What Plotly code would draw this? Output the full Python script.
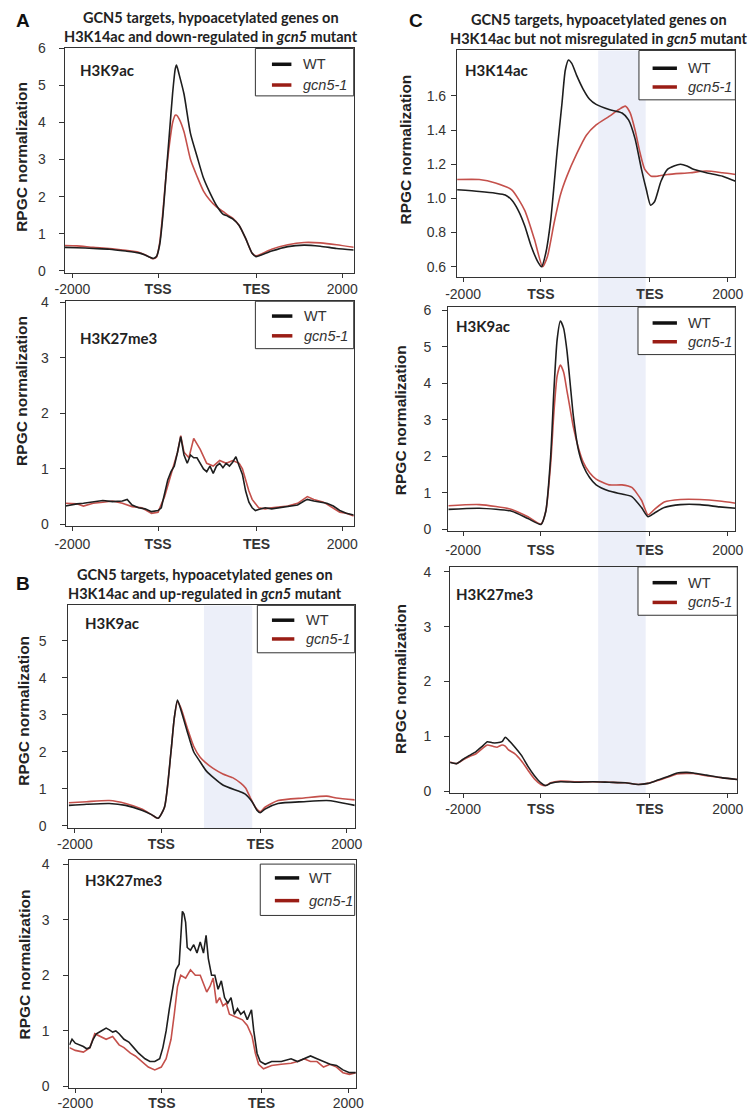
import plotly.graph_objects as go

W, H = 756, 1113

# ---------------- data ----------------
TICK_AB = [-2000, 0, 2300, 4300]
TICK_C = [-2000, 0, 2800, 4800]
TICK_TEXT = ["-2000", "<b>TSS</b>", "<b>TES</b>", "2000"]
SHADE_B = [990, 2110]
SHADE_C = [1470, 2690]

# A, H3K9ac
A1_X = [-2182, -1894, -1515, -1136, -758, -455, -303, -189, -114, -38, 38, 114, 189, 265, 341, 402, 432, 492,
        606, 758, 909, 1061, 1212, 1364, 1515, 1629, 1742, 1894, 2045, 2197, 2288, 2424, 2652, 3030, 3409,
        3788, 4167, 4568]
A1_WT = [0.63, 0.62, 0.60, 0.58, 0.53, 0.48, 0.42, 0.36, 0.33, 0.38, 0.70, 1.50, 2.60, 3.70, 4.80, 5.45, 5.55,
         5.30, 4.77, 3.70, 3.09, 2.50, 2.10, 1.76, 1.53, 1.47, 1.40, 1.22, 0.87, 0.47, 0.38, 0.43, 0.53, 0.65,
         0.69, 0.66, 0.60, 0.56]
A1_GCN = [0.68, 0.67, 0.63, 0.60, 0.55, 0.50, 0.43, 0.36, 0.32, 0.36, 0.75, 1.60, 2.60, 3.40, 4.00, 4.20, 4.20,
          4.10, 3.75, 3.00, 2.55, 2.15, 1.90, 1.72, 1.60, 1.50, 1.42, 1.22, 0.87, 0.47, 0.40, 0.46, 0.58, 0.70,
          0.76, 0.75, 0.70, 0.63]

# A, H3K27me3
A2_X_WT = [-2159, -2045, -1894, -1742, -1515, -1288, -1061, -833, -720, -606, -455, -303, -152, 0, 76, 152, 227,
           303, 379, 455, 530, 606, 682, 758, 833, 909, 985, 1061, 1136, 1212, 1288, 1364, 1439, 1515, 1591,
           1667, 1742, 1818, 1894, 1970, 2045, 2121, 2197, 2273, 2348, 2500, 2652, 2803, 3030, 3258, 3409,
           3485, 3636, 3788, 3939, 4091, 4242, 4394, 4568]
A2_WT = [0.33, 0.35, 0.37, 0.38, 0.40, 0.43, 0.41, 0.42, 0.45, 0.35, 0.30, 0.28, 0.23, 0.25, 0.30, 0.55, 0.80,
         0.95, 1.05, 1.30, 1.58, 1.25, 1.10, 1.25, 1.20, 1.20, 1.10, 1.00, 0.95, 1.05, 0.92, 1.05, 1.10, 1.02,
         1.10, 1.05, 1.12, 1.22, 1.05, 0.90, 0.60, 0.40, 0.30, 0.25, 0.27, 0.30, 0.28, 0.30, 0.32, 0.35, 0.42,
         0.45, 0.42, 0.40, 0.38, 0.33, 0.25, 0.20, 0.17]
A2_X_GCN = [-2159, -1894, -1742, -1515, -1288, -1061, -833, -606, -379, -152, 0, 152, 303, 455, 530, 606, 720,
            833, 909, 985, 1136, 1288, 1439, 1591, 1742, 1894, 1970, 2045, 2121, 2197, 2348, 2500, 2652, 3030,
            3258, 3485, 3636, 3864, 4091, 4242, 4394, 4568]
A2_GCN = [0.38, 0.37, 0.33, 0.38, 0.40, 0.42, 0.38, 0.32, 0.30, 0.20, 0.22, 0.50, 0.90, 1.30, 1.60, 1.30, 1.20,
          1.55, 1.45, 1.35, 1.10, 1.05, 1.15, 1.10, 1.15, 1.10, 1.00, 0.80, 0.60, 0.45, 0.30, 0.28, 0.30, 0.33,
          0.38, 0.50, 0.45, 0.40, 0.30, 0.22, 0.20, 0.15]

# B, H3K9ac
B1_X_WT = [-2143, -1730, -1203, -827, -451, -226, -75, 75, 226, 301, 376, 451, 602, 752, 902, 1053, 1429, 1805,
           1955, 2106, 2218, 2294, 2406, 2707, 3309, 3835, 4061, 4489]
B1_WT = [0.55, 0.58, 0.60, 0.55, 0.42, 0.30, 0.20, 0.50, 2.00, 2.90, 3.40, 3.15, 2.55, 2.00, 1.73, 1.47, 1.10,
         0.93, 0.85, 0.65, 0.42, 0.35, 0.45, 0.60, 0.65, 0.68, 0.65, 0.55]
B1_X_GCN = [-2143, -1730, -1203, -827, -451, -226, -75, 75, 226, 301, 376, 451, 602, 752, 902, 1015, 1203, 1429,
            1654, 1842, 1955, 2068, 2181, 2294, 2406, 2707, 3309, 3835, 4061, 4489]
B1_GCN = [0.62, 0.65, 0.68, 0.60, 0.45, 0.30, 0.20, 0.50, 2.00, 2.90, 3.35, 3.20, 2.65, 2.15, 1.85, 1.72, 1.55,
          1.40, 1.30, 1.15, 1.02, 0.75, 0.50, 0.38, 0.50, 0.68, 0.75, 0.80, 0.75, 0.70]

# B, H3K27me3
B2_X_WT = [-2135, -2075, -2000, -1887, -1813, -1738, -1663, -1588, -1513, -1401, -1288, -1213, -1138, -1064, -989,
           -876, -764, -652, -539, -390, -277, -165, -52, 22, 97, 172, 247, 322, 397, 434, 472, 509, 547, 584,
           659, 734, 809, 884, 959, 1019, 1071, 1146, 1221, 1296, 1371, 1446, 1520, 1595, 1670, 1745, 1820,
           1895, 1970, 2067, 2120, 2195, 2269, 2382, 2532, 2756, 2981, 3131, 3281, 3430, 3580, 3730, 3880, 4030,
           4179, 4329, 4479]
B2_WT = [0.75, 0.85, 0.78, 0.75, 0.72, 0.68, 0.70, 0.85, 0.95, 1.00, 1.05, 1.02, 0.98, 1.00, 0.95, 0.85, 0.80,
         0.70, 0.60, 0.50, 0.45, 0.45, 0.50, 0.70, 1.00, 1.40, 1.75, 2.10, 2.20, 2.60, 3.15, 3.10, 2.95, 2.50,
         2.45, 2.55, 2.40, 2.60, 2.40, 2.72, 2.30, 2.00, 2.00, 1.75, 1.90, 1.60, 1.50, 1.60, 1.30, 1.40, 1.30,
         1.35, 1.20, 1.38, 1.00, 0.60, 0.45, 0.40, 0.45, 0.45, 0.50, 0.45, 0.50, 0.55, 0.50, 0.45, 0.40, 0.38,
         0.30, 0.25, 0.25]
B2_X_GCN = [-2135, -2000, -1813, -1663, -1550, -1401, -1288, -1138, -989, -876, -727, -614, -464, -315, -165, -15,
            97, 210, 285, 360, 434, 547, 659, 771, 884, 959, 1034, 1109, 1183, 1258, 1333, 1408, 1483, 1558,
            1708, 1858, 1970, 2082, 2157, 2232, 2344, 2532, 2756, 2981, 3131, 3281, 3430, 3580, 3730, 3880,
            4030, 4179, 4329, 4479]
B2_GCN = [0.70, 0.65, 0.62, 0.70, 0.95, 0.90, 0.85, 0.90, 0.75, 0.70, 0.60, 0.55, 0.45, 0.35, 0.30, 0.35, 0.50,
          0.85, 1.30, 1.80, 2.00, 1.95, 2.10, 2.00, 2.00, 1.85, 1.70, 1.80, 1.95, 1.50, 1.60, 1.45, 1.50, 1.30,
          1.25, 1.20, 1.10, 0.90, 0.60, 0.40, 0.32, 0.38, 0.40, 0.42, 0.45, 0.50, 0.45, 0.45, 0.35, 0.40, 0.35,
          0.25, 0.22, 0.25]

# C, H3K14ac
C1_X_WT = [-2150, -1583, -1167, -917, -750, -583, -417, -250, -83, 17, 125, 250, 417, 542, 625, 708, 792, 917,
           1083, 1250, 1417, 1750, 2083, 2250, 2417, 2583, 2708, 2817, 2917, 3083, 3250, 3417, 3583, 3750, 3917,
           4250, 4667, 5000]
C1_WT = [1.05, 1.04, 1.03, 1.02, 0.99, 0.93, 0.84, 0.72, 0.63, 0.60, 0.68, 0.87, 1.28, 1.56, 1.75, 1.81, 1.79,
         1.72, 1.64, 1.58, 1.55, 1.52, 1.50, 1.46, 1.35, 1.17, 1.05, 0.96, 0.98, 1.10, 1.17, 1.19, 1.20, 1.19,
         1.17, 1.15, 1.13, 1.10]
C1_X_GCN = [-2150, -1583, -1167, -750, -417, -167, 42, 167, 333, 500, 667, 917, 1167, 1417, 1750, 2000, 2167,
            2292, 2417, 2542, 2667, 2833, 3000, 3250, 3833, 4250, 4667, 5000]
C1_GCN = [1.11, 1.11, 1.09, 1.05, 0.93, 0.76, 0.60, 0.66, 0.85, 1.02, 1.13, 1.26, 1.37, 1.43, 1.48, 1.52, 1.54,
          1.50, 1.40, 1.27, 1.17, 1.13, 1.13, 1.14, 1.15, 1.16, 1.15, 1.14]

# C, H3K9ac
C2_X = [-2375, -1583, -750, -333, 0, 125, 250, 333, 417, 500, 583, 667, 750, 833, 958, 1083, 1250, 1417, 1750,
        2083, 2333, 2583, 2750, 2917, 3167, 3583, 4083, 4583, 5000]
C2_WT = [0.55, 0.58, 0.50, 0.30, 0.14, 0.50, 2.00, 3.80, 5.20, 5.70, 5.50, 4.90, 4.00, 3.10, 2.20, 1.75, 1.42,
         1.22, 1.05, 0.97, 0.90, 0.60, 0.35, 0.45, 0.60, 0.68, 0.68, 0.62, 0.58]
C2_GCN = [0.65, 0.68, 0.55, 0.35, 0.15, 0.50, 1.80, 3.20, 4.20, 4.50, 4.30, 3.80, 3.30, 2.80, 2.25, 1.85, 1.55,
          1.38, 1.22, 1.22, 1.15, 0.80, 0.40, 0.55, 0.75, 0.82, 0.82, 0.78, 0.72]

# C, H3K27me3
C3_X = [-2333, -2167, -2000, -1833, -1667, -1500, -1375, -1250, -1125, -1000, -917, -833, -667, -500, -333, -167,
        0, 125, 250, 500, 917, 1333, 1750, 2167, 2500, 2750, 3000, 3250, 3500, 3750, 3917, 4250, 4667, 5042]
C3_WT = [0.52, 0.50, 0.58, 0.65, 0.72, 0.82, 0.90, 0.88, 0.88, 0.90, 0.98, 0.93, 0.80, 0.65, 0.45, 0.28, 0.15,
         0.10, 0.14, 0.17, 0.16, 0.17, 0.16, 0.15, 0.12, 0.14, 0.20, 0.26, 0.33, 0.34, 0.33, 0.29, 0.24, 0.21]
C3_GCN = [0.53, 0.50, 0.57, 0.63, 0.68, 0.78, 0.84, 0.82, 0.80, 0.84, 0.82, 0.75, 0.68, 0.55, 0.38, 0.22, 0.12,
          0.10, 0.15, 0.18, 0.17, 0.17, 0.16, 0.15, 0.12, 0.14, 0.19, 0.25, 0.31, 0.32, 0.32, 0.28, 0.24, 0.21]

SERIES_NAMES = ["WT", "<i>gcn5-1</i>"]

# ---------------- styling ----------------
WT_COLOR = "#1e1e1e"
GCN_COLOR = "#c4504b"
LEG_GCN_COLOR = "#9a1d15"
AXIS_COLOR = "#333333"
TICK_FONT = dict(family="Liberation Sans, Arial, sans-serif", size=14, color="#333333")
BOLD_FONT = "Lato, Open Sans, sans-serif"


def px(x):
    return x / W


def py(y):
    return 1 - y / H


panels = [
    dict(xd=(54, 351), yd=(41, 268), xr=(-2182, 4568), yr=(-0.053, 6.0), xt=TICK_AB, yt=[0, 1, 2, 3, 4, 5, 6],
         ystand=10, xw=A1_X, wt=A1_WT, xg=A1_X, gc=A1_GCN, shape="spline", name="H3K9ac", nxy=(68, 63),
         leg=(250, 41, 351, 89, 267, 287, 297, 57, 78), yt_xy=(9, 151), xstand=0),
    dict(xd=(55, 351), yd=(297, 525), xr=(-2159, 4568), yr=(-0.036, 4.018), xt=TICK_AB, yt=[0, 1, 2, 3, 4],
         ystand=8, xw=A2_X_WT, wt=A2_WT, xg=A2_X_GCN, gc=A2_GCN, shape="linear", name="H3K27me3", nxy=(68, 334),
         leg=(250, 297, 351, 345, 267, 288, 298, 312, 332), yt_xy=(9, 388), xstand=1),
    dict(xd=(58, 352), yd=(605, 830), xr=(-2151, 4485), yr=(-0.05, 5.96), xt=TICK_AB, yt=[0, 1, 2, 3, 4, 5],
         ystand=13, xw=B1_X_WT, wt=B1_WT, xg=B1_X_GCN, gc=B1_GCN, shape="spline", name="H3K9ac", nxy=(73, 623),
         leg=(252, 605, 352, 653, 267, 290, 300, 620, 639), yt_xy=(11, 712), xstand=0),
    dict(xd=(59, 353), yd=(863, 1094), xr=(-2135, 4472), yr=(-0.03, 4.07), xt=TICK_AB, yt=[0, 1, 2, 3, 4],
         ystand=11, xw=B2_X_WT, wt=B2_WT, xg=B2_X_GCN, gc=B2_GCN, shape="linear", name="H3K27me3", nxy=(73, 883),
         leg=(255, 867, 352, 919, 270, 295, 303, 881, 904), yt_xy=(13, 969), xstand=-2),
    dict(xd=(457, 743), yd=(43, 272), xr=(-2158, 4993), yr=(0.542, 1.866), xt=TICK_C,
         yt=[0.6, 0.8, 1.0, 1.2, 1.4, 1.6], ystand=2, xw=C1_X_WT, wt=C1_WT, xg=C1_X_GCN, gc=C1_GCN,
         shape="spline", name="H3K14ac", nxy=(463, 63), leg=(644, 43, 743, 93, 658, 683, 692, 61, 80),
         yt_xy=(404, 143), xstand=1, yfmt=".1f"),
    dict(xd=(448, 743), yd=(303, 530), xr=(-2383, 4993), yr=(-0.05, 6.08), xt=TICK_C, yt=[0, 1, 2, 3, 4, 5, 6],
         ystand=8, xw=C2_X, wt=C2_WT, xg=C2_X, gc=C2_GCN, shape="spline", name="H3K9ac", nxy=(454, 322),
         leg=(643, 303, 743, 351, 658, 683, 692, 319, 338), yt_xy=(399, 417), xstand=2),
    dict(xd=(450, 745), yd=(566, 795), xr=(-2333, 5043), yr=(-0.036, 4.09), xt=TICK_C, yt=[0, 1, 2, 3, 4],
         ystand=10, xw=C3_X, wt=C3_WT, xg=C3_X, gc=C3_GCN, shape="spline", name="H3K27me3", nxy=(454, 593),
         leg=(643, 566, 745, 615, 658, 683, 692, 582, 602), yt_xy=(399, 679), xstand=-1),
]

fig = go.Figure()
layout = dict(
    width=W, height=H, margin=dict(l=0, r=0, t=0, b=0),
    paper_bgcolor="white", plot_bgcolor="rgba(0,0,0,0)", showlegend=False,
)
shapes = []
annotations = []

# shaded gene-body regions (below everything)
shapes.append(dict(type="rect", xref="x3", yref="paper", x0=SHADE_B[0], x1=SHADE_B[1],
                   y0=py(831), y1=py(605), fillcolor="#eceff9", line=dict(width=0), layer="below"))
shapes.append(dict(type="rect", xref="x5", yref="paper", x0=SHADE_C[0], x1=SHADE_C[1],
                   y0=py(795), y1=py(43), fillcolor="#eceff9", line=dict(width=0), layer="below"))

for i, p in enumerate(panels):
    n = "" if i == 0 else str(i + 1)
    xa, ya = "x" + n, "y" + n
    layout["xaxis" + n] = dict(
        domain=[px(p["xd"][0]), px(p["xd"][1])], range=list(p["xr"]), anchor=ya,
        tickmode="array", tickvals=p["xt"], ticktext=TICK_TEXT, ticks="outside", ticklen=4,
        tickcolor=AXIS_COLOR, showline=True, linecolor=AXIS_COLOR, linewidth=1, mirror=True,
        showgrid=False, zeroline=False, tickfont=TICK_FONT, ticklabelstandoff=p["xstand"], fixedrange=True,
    )
    yax = dict(
        domain=[py(p["yd"][1]), py(p["yd"][0])], range=list(p["yr"]), anchor=xa,
        tickmode="array", tickvals=p["yt"], ticks="outside", ticklen=5, tickcolor=AXIS_COLOR,
        showline=True, linecolor=AXIS_COLOR, linewidth=1, mirror=True, showgrid=False, zeroline=False,
        tickfont=TICK_FONT, ticklabelstandoff=p["ystand"], fixedrange=True,
    )
    if "yfmt" in p:
        yax["tickformat"] = p["yfmt"]
    layout["yaxis" + n] = yax

    fig.add_trace(go.Scatter(x=p["xg"], y=p["gc"], xaxis=xa, yaxis=ya, mode="lines", name=SERIES_NAMES[1],
                             line=dict(color=GCN_COLOR, width=1.6, shape=p["shape"], smoothing=0.6)))
    fig.add_trace(go.Scatter(x=p["xw"], y=p["wt"], xaxis=xa, yaxis=ya, mode="lines", name=SERIES_NAMES[0],
                             line=dict(color=WT_COLOR, width=1.6, shape=p["shape"], smoothing=0.6)))

    # panel mark label
    annotations.append(dict(x=px(p["nxy"][0]), y=py(p["nxy"][1]), xref="paper", yref="paper",
                            text="<b>%s</b>" % p["name"], showarrow=False, xanchor="left", yanchor="middle",
                            font=dict(family=BOLD_FONT, size=15, color="#222222")))
    # y-axis title
    annotations.append(dict(x=px(p["yt_xy"][0]), y=py(p["yt_xy"][1]), xref="paper", yref="paper",
                            text="<b>RPGC normalization</b>", showarrow=False, textangle=-90,
                            xanchor="center", yanchor="middle",
                            font=dict(family="Liberation Sans, Arial, sans-serif", size=15.5, color="#222222")))
    # legend box
    lx0, ly0, lx1, ly1, sx0, sx1, tx, wy, gy = p["leg"]
    shapes.append(dict(type="rect", xref="paper", yref="paper", x0=px(lx0), x1=px(lx1), y0=py(ly1), y1=py(ly0),
                       line=dict(color=AXIS_COLOR, width=1), fillcolor="white", layer="above"))
    shapes.append(dict(type="line", xref="paper", yref="paper", x0=px(sx0), x1=px(sx1), y0=py(wy), y1=py(wy),
                       line=dict(color="#111111", width=3.5), layer="above"))
    shapes.append(dict(type="line", xref="paper", yref="paper", x0=px(sx0), x1=px(sx1), y0=py(gy), y1=py(gy),
                       line=dict(color=LEG_GCN_COLOR, width=3.5), layer="above"))
    for txt, yy in ((SERIES_NAMES[0], wy), (SERIES_NAMES[1], gy)):
        annotations.append(dict(x=px(tx), y=py(yy), xref="paper", yref="paper", text=txt, showarrow=False,
                                xanchor="left", yanchor="middle",
                                font=dict(family="Liberation Sans, Arial, sans-serif", size=14.5,
                                          color="#333333")))

# titles
TITLE_FONT = dict(family=BOLD_FONT, size=14.5, color="#222222")
titles = [
    (204, 10, "<b>GCN5 targets, hypoacetylated genes on</b>"),
    (204, 29, "<b>H3K14ac and down-regulated in <i>gcn5</i> mutant</b>"),
    (198, 574, "<b>GCN5 targets, hypoacetylated genes on</b>"),
    (198, 593, "<b>H3K14ac and up-regulated in <i>gcn5</i> mutant</b>"),
    (603, 12, "<b>GCN5 targets, hypoacetylated genes on</b>"),
    (603, 31, "<b>H3K14ac but not misregulated in <i>gcn5</i> mutant</b>"),
]
for x, y, t in titles:
    annotations.append(dict(x=px(x), y=py(y), xref="paper", yref="paper", text=t, showarrow=False,
                            xanchor="center", yanchor="middle", font=TITLE_FONT))
for x, y, t in ((11, 13, "A"), (11, 583, "B"), (415, 13, "C")):
    annotations.append(dict(x=px(x), y=py(y), xref="paper", yref="paper", text="<b>%s</b>" % t,
                            showarrow=False, xanchor="center", yanchor="middle",
                            font=dict(family="Liberation Sans, Arial, sans-serif", size=19, color="#111111")))

layout["shapes"] = shapes
layout["annotations"] = annotations
fig.update_layout(**layout)
fig.write_html("out.html", config={"displayModeBar": False, "staticPlot": True},
               post_script="document.body.style.margin='0';document.body.style.overflow='hidden';")
